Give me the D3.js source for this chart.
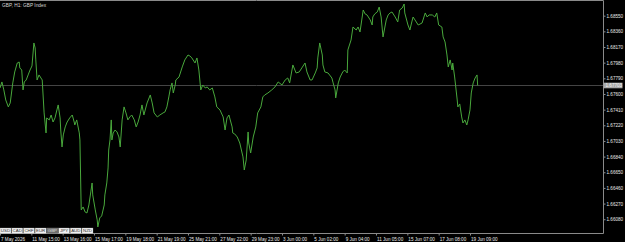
<!DOCTYPE html>
<html>
<head>
<meta charset="utf-8">
<script src="https://cdn.jsdelivr.net/npm/d3@7"></script>
<style>
  html, body { margin: 0; padding: 0; background: #000; overflow: hidden; }
  text { font-family: "Liberation Sans", Arial, sans-serif; }
</style>
</head>
<body>
<div id="chart"></div>
<script>
// hourly bar index (trading hours since start) and index close
var bars = [0,3,6,9,13,16,20,23,27,30,31,34,36,38,41,44,47,50,53,55,56,58,61,64,66,69,72,73,77,80,83,86,89,91,94,95,97,99,102,105,109,113,116,117,120,124,125,127,130,133,136,139,142,144,145,149,152,153,156,159,163,164,167,169,170,172,174,175,177,180,183,186,188,191,194,197,200,203,206,210,213,216,219,222,225,230,235,238,241,246,250,255,258,261,264,266,269,271,274,275,280,285,289,294,297,300,305,308,311,314,317,321,324,328,332,336,339,344,349,352,355,358,363,364,367,371,375,380,382,385,388,389,392,396,400,403,408,411,414,419,425,430,435,441,446,450,453,458,463,468,472,477,480,485,488,493,496,497,500,504,505,508,513,519,521,524,525,529,532,536,539,543,544,549,552,557,560,563,568,571,574,579,582,583,586,590,593,596,599,604,607,610,613,618,622,625,629,632,633,638,641,644,646,649,654,660,665,668,671,676,680,683,686,691,693,696,699,701,704,707,708,711,715,716,719,722,724,727,730,732,735,737,740,743,746,747];
var closes = [1.67673,1.67746,1.67649,1.67527,1.67443,1.67491,1.67734,1.67867,1.67976,1.67988,1.67916,1.67891,1.67649,1.67746,1.67770,1.67831,1.67891,1.67940,1.68219,1.68158,1.68013,1.67770,1.67831,1.67794,1.67770,1.67370,1.67127,1.67309,1.67285,1.67345,1.67260,1.67309,1.67406,1.67467,1.67309,1.67163,1.66957,1.67103,1.67200,1.67260,1.67309,1.67345,1.67260,1.67224,1.67285,1.67127,1.67042,1.66193,1.66229,1.66169,1.66156,1.66253,1.66411,1.66520,1.66375,1.66193,1.66072,1.65986,1.66096,1.66120,1.66253,1.66375,1.66520,1.66702,1.66920,1.67042,1.67285,1.67042,1.67127,1.67163,1.67139,1.67078,1.66957,1.67285,1.67443,1.67370,1.67285,1.67321,1.67345,1.67285,1.67200,1.67260,1.67345,1.67467,1.67345,1.67491,1.67588,1.67491,1.67370,1.67321,1.67345,1.67370,1.67382,1.67443,1.67564,1.67649,1.67734,1.67612,1.67709,1.67770,1.67806,1.67928,1.68013,1.68073,1.68061,1.68037,1.67976,1.68037,1.67891,1.67649,1.67709,1.67673,1.67685,1.67649,1.67673,1.67564,1.67443,1.67406,1.67321,1.67163,1.67309,1.67345,1.67200,1.67127,1.67115,1.67078,1.67005,1.66836,1.66678,1.66799,1.67139,1.67005,1.66884,1.67078,1.67200,1.67370,1.67443,1.67564,1.67588,1.67612,1.67649,1.67685,1.67746,1.67709,1.67770,1.67794,1.67734,1.67952,1.67855,1.67867,1.67916,1.67976,1.67867,1.67770,1.67770,1.67855,1.67916,1.68037,1.68219,1.68073,1.67952,1.67867,1.67855,1.67794,1.67734,1.67649,1.67552,1.67734,1.67806,1.67867,1.67891,1.67855,1.68134,1.68255,1.68413,1.68376,1.68413,1.68352,1.68619,1.68571,1.68559,1.68498,1.68437,1.68534,1.68571,1.68595,1.68655,1.68534,1.68292,1.68498,1.68559,1.68583,1.68595,1.68534,1.68474,1.68619,1.68643,1.68692,1.68583,1.68437,1.68376,1.68474,1.68534,1.68498,1.68437,1.68461,1.68583,1.68534,1.68559,1.68559,1.68534,1.68583,1.68437,1.68413,1.68292,1.68231,1.68073,1.67928,1.68013,1.67891,1.67976,1.67806,1.67527,1.67443,1.67479,1.67321,1.67248,1.67285,1.67224,1.67285,1.67406,1.67612,1.67734,1.67794,1.67831,1.67703];

var priceTicks = [1.66080,1.66270,1.66460,1.66650,1.66840,1.67030,1.67220,1.67410,1.67600,1.67790,1.67980,1.68170,1.68360,1.68550];
var timeTickBars = [0,49,98,147,196,245,294,343,392,441,490,539,588,637,686,735];
var timeLabels = ["7 May 2026","11 May 15:00","13 May 16:00","15 May 17:00","19 May 18:00","21 May 19:00","25 May 21:00","27 May 22:00","29 May 23:00","3 Jun 00:00","5 Jun 02:00","9 Jun 04:00","11 Jun 05:00","15 Jun 07:00","17 Jun 08:00","19 Jun 09:00"];
var currencies = ["USD","CAD","CHF","EUR","GBP","JPY","AUD","NZD"];
var activeCurrency = "GBP";
var currentPrice = 1.67703;

IndexChart = {
    svg : null,
    w : 625,
    h : 242,
    plotW : 603,
    plotH : 233,
    init : function(divName) {
        d3.selectAll(divName + ' svg').remove(); // clean
        this.svg = d3.select(divName)
            .append("svg")
            .attr("width", this.w)
            .attr("height", this.h)
            .style("display", "block")
            .style("background", "#000");

        this.x = d3.scaleLinear().domain([0, 943]).range([0, this.plotW]);
        this.y = d3.scaleLinear().domain([1.65913, 1.68716]).range([this.plotH, 2]);

        this.drawFrame();
        this.drawLine();
        this.drawButtons();
        return this;
    },

    drawFrame : function() {
        var svg = this.svg;

        // current price line
        svg.append("line")
            .attr("x1", 0).attr("x2", this.plotW)
            .attr("y1", Math.round(this.y(currentPrice)) + 0.5)
            .attr("y2", Math.round(this.y(currentPrice)) + 0.5)
            .attr("stroke", "#444")
            .attr("stroke-width", 1);

        // border
        svg.append("path")
            .attr("d", "M0," + 0.5 + "H" + (this.plotW + 0.5) + "V" + (this.plotH + 0.5) + "H0")
            .attr("fill", "none")
            .attr("stroke", "#8a8a8a")
            .attr("stroke-width", 1);

        // price axis
        var yAxis = d3.axisRight(this.y)
            .tickValues(priceTicks)
            .tickSize(2)
            .tickPadding(1)
            .tickFormat(d3.format(".5f"));
        var gy = svg.append("g")
            .attr("transform", "translate(" + (this.plotW + 0.5) + ",0)")
            .call(yAxis);
        gy.select(".domain").remove();
        gy.selectAll("line").attr("stroke", "#8a8a8a");
        gy.selectAll("text")
            .attr("fill", "#e8e8e8")
            .style("font-size", "4.6px");

        // current price tag
        var tag = svg.append("g")
            .attr("transform", "translate(" + (this.plotW + 0.5) + "," + this.y(currentPrice) + ")");
        tag.append("rect")
            .attr("x", 0).attr("y", -2.8)
            .attr("width", 19).attr("height", 5.6)
            .attr("fill", "#a8a8a8");
        tag.append("text")
            .attr("x", 2).attr("dy", "0.35em")
            .attr("fill", "#f4f4f4")
            .style("font-size", "4.6px")
            .text(d3.format(".5f")(currentPrice));

        // time axis
        var xAxis = d3.axisBottom(this.x)
            .tickValues(timeTickBars)
            .tickSize(2)
            .tickPadding(2)
            .tickFormat(function(d, i) { return timeLabels[i]; });
        var gx = svg.append("g")
            .attr("transform", "translate(0," + (this.plotH + 0.5) + ")")
            .call(xAxis);
        gx.select(".domain").remove();
        gx.selectAll("line").attr("stroke", "#8a8a8a");
        gx.selectAll("text")
            .attr("text-anchor", "start")
            .attr("x", 0.5)
            .attr("fill", "#e8e8e8")
            .style("font-size", "4.6px");

        // caption
        svg.append("text")
            .attr("x", 2).attr("y", 7)
            .attr("fill", "#d8d8d8")
            .style("font-size", "4.8px")
            .text("GBP, H1:  GBP Index");
    },

    drawLine : function() {
        var self = this;
        var line = d3.line()
            .x(function(d) { return self.x(d); })
            .y(function(d, i) { return self.y(closes[i]); });

        this.svg.append("path")
            .datum(bars)
            .attr("fill", "none")
            .attr("stroke", "#49a83c")
            .attr("stroke-width", 1)
            .attr("stroke-linejoin", "miter")
            .attr("d", line);
    },

    drawButtons : function() {
        var bx = d3.scaleBand().domain(currencies).range([0, 93]).paddingInner(0.06);
        var g = this.svg.append("g").attr("transform", "translate(0,228)");
        var b = g.selectAll("g.btn")
            .data(currencies)
            .enter().append("g")
            .attr("class", "btn")
            .attr("transform", function(d) { return "translate(" + bx(d) + ",0)"; });
        b.append("rect")
            .attr("width", bx.bandwidth())
            .attr("height", 5.5)
            .attr("fill", function(d) { return d == activeCurrency ? "#6e6e6e" : "#f0f0f0"; })
            .attr("stroke", "#9a9a9a")
            .attr("stroke-width", 0.3);
        b.append("text")
            .attr("x", bx.bandwidth() / 2)
            .attr("y", 4.3)
            .attr("text-anchor", "middle")
            .attr("fill", function(d) { return d == activeCurrency ? "#dcdcdc" : "#303030"; })
            .style("font-size", "4.4px")
            .text(function(d) { return d; });
    }
}

IndexChart.init("#chart");
</script>
</body>
</html>
